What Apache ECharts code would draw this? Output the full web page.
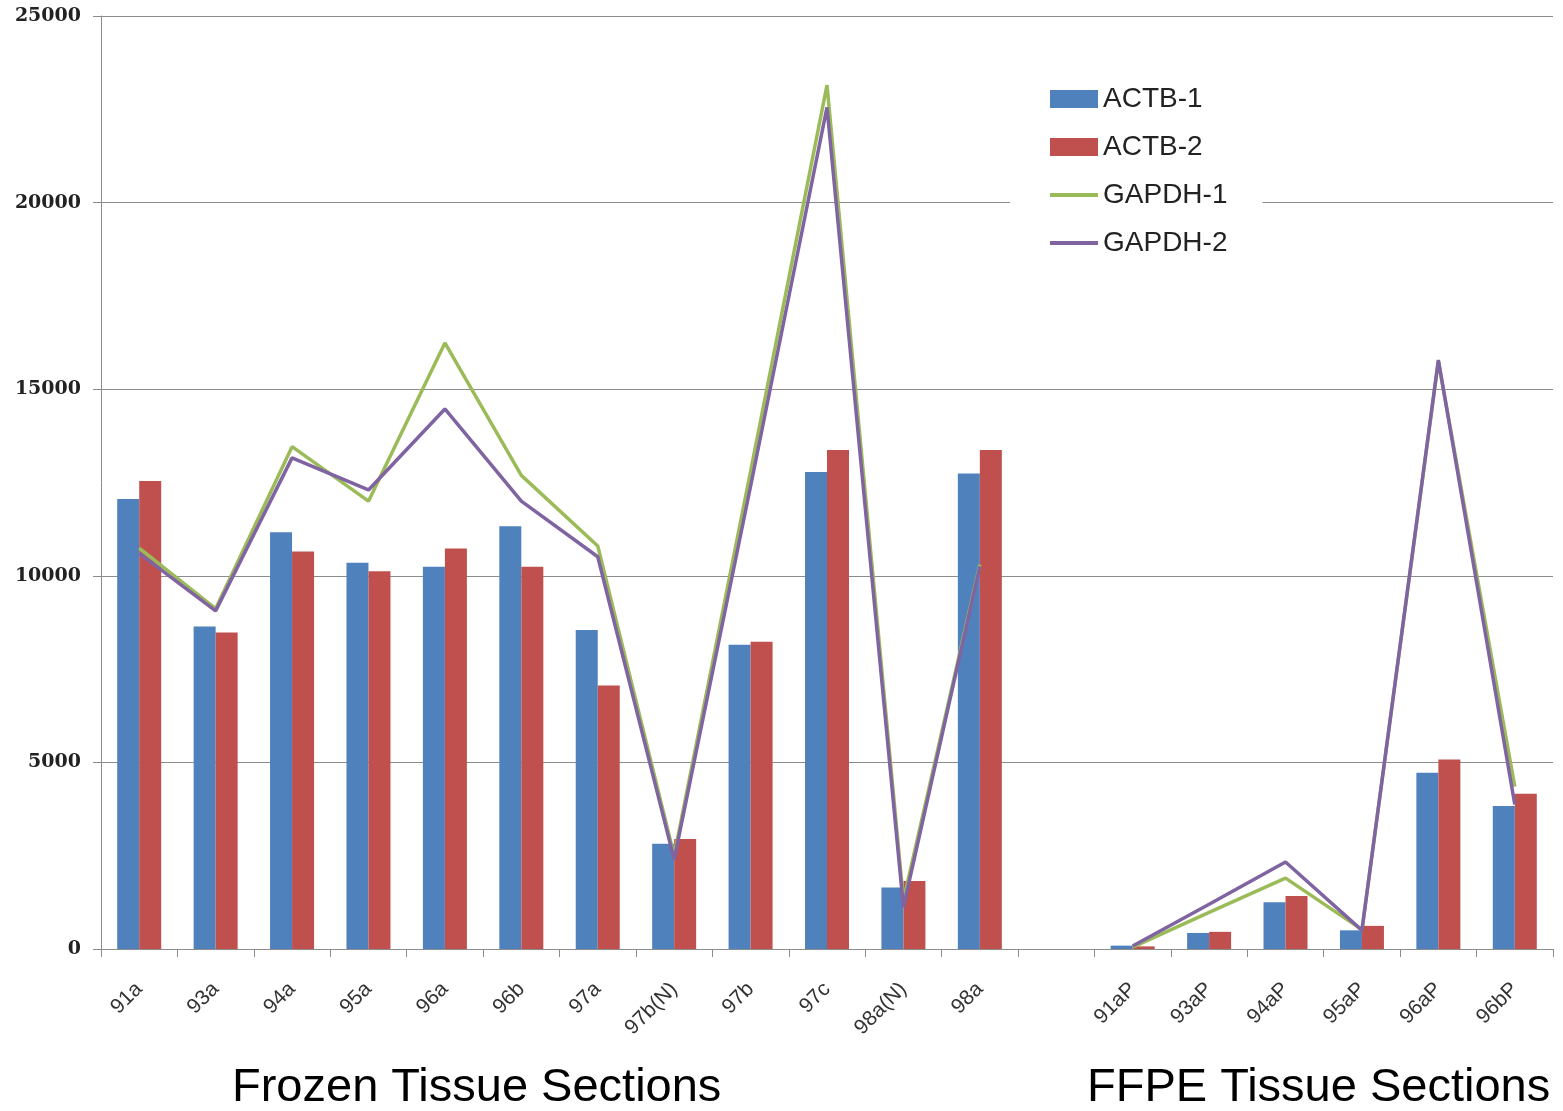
<!DOCTYPE html>
<html>
<head>
<meta charset="utf-8">
<style>
  html, body { margin: 0; padding: 0; background: #fff; }
  #chart { width: 1563px; height: 1111px; }
</style>
<script src="https://cdn.jsdelivr.net/npm/echarts@6/dist/echarts.min.js"></script>
</head>
<body>
<div id="chart"></div>
<script>
// Sample names; the empty entry separates frozen sections from FFPE sections
const categories = ['91a', '93a', '94a', '95a', '96a', '96b', '97a', '97b(N)', '97b', '97c', '98a(N)', '98a', '',
  '91aP', '93aP', '94aP', '95aP', '96aP', '96bP'];

const actb1  = [12060, 8640, 11170, 10350, 10240, 11330, 8550, 2820, 8150, 12780, 1650, 12740, null, 90, 430, 1250, 500, 4720, 3830];
const actb2  = [12540, 8480, 10650, 10120, 10730, 10240, 7060, 2950, 8230, 13370, 1820, 13370, null, 70, 460, 1420, 620, 5080, 4160];
const gapdh1 = [10740, 9120, 13460, 12000, 16240, 12690, 10800, 2500, 12800, 23150, 1300, 10300, null, 50, 980, 1900, 520, 15750, 4350];
const gapdh2 = [10600, 9060, 13160, 12300, 14470, 12000, 10510, 2400, 12400, 22550, 1120, 10250, null, 80, 1200, 2330, 500, 15780, 3870];

const yTicks = { min: 0, max: 25000, interval: 5000 };
const groupTitles = ['Frozen Tissue Sections', 'FFPE Tissue Sections'];

const colors = { actb1: '#4F81BD', actb2: '#C0504D', gapdh1: '#9BBB59', gapdh2: '#8064A2' };
const gridColor = '#8c8c8c';

// thin horizontal stroke used as the legend key of the line series
const lineKey = 'path://M0,0 H48 V4 H0 Z';

const chart = echarts.init(document.getElementById('chart'), null, { renderer: 'canvas' });

chart.setOption({
  animation: false,
  backgroundColor: '#ffffff',
  grid: { left: 101, right: 10, top: 16, bottom: 162, containLabel: false },
  legend: {
    orient: 'vertical',
    left: 1010,
    top: 64,
    padding: [20, 35, 20, 40],
    backgroundColor: '#ffffff',
    itemWidth: 48,
    itemHeight: 18,
    itemGap: 18,
    symbolKeepAspect: true,
    textStyle: { fontFamily: 'Liberation Sans', fontSize: 28, lineHeight: 30, color: '#222' },
    data: [
      { name: 'ACTB-1', icon: 'rect' },
      { name: 'ACTB-2', icon: 'rect' },
      { name: 'GAPDH-1', icon: lineKey },
      { name: 'GAPDH-2', icon: lineKey }
    ]
  },
  xAxis: {
    type: 'category',
    data: categories,
    boundaryGap: true,
    axisLine: { lineStyle: { color: gridColor, width: 1 } },
    axisTick: { show: true, length: 8, lineStyle: { color: gridColor } },
    axisLabel: {
      rotate: 45,
      margin: 37,
      interval: 0,
      fontFamily: 'Liberation Sans',
      fontSize: 21,
      color: '#333'
    }
  },
  yAxis: {
    type: 'value',
    min: yTicks.min,
    max: yTicks.max,
    interval: yTicks.interval,
    axisLine: { show: true, lineStyle: { color: gridColor, width: 1 } },
    axisTick: { show: true, length: 8, lineStyle: { color: gridColor } },
    splitLine: { show: true, lineStyle: { color: gridColor, width: 1 } },
    axisLabel: {
      margin: 20,
      formatter: (v) => String(v),
      fontFamily: 'DejaVu Serif',
      fontWeight: 'bold',
      fontSize: 19,
      color: '#222'
    }
  },
  series: [
    {
      name: 'ACTB-1', type: 'bar', data: actb1,
      barWidth: 22, barGap: '0%',
      itemStyle: { color: colors.actb1 }
    },
    {
      name: 'ACTB-2', type: 'bar', data: actb2,
      barWidth: 22, barGap: '0%',
      itemStyle: { color: colors.actb2 }
    },
    {
      name: 'GAPDH-1', type: 'line', data: gapdh1,
      symbol: 'none', showSymbol: false, connectNulls: false,
      lineStyle: { color: colors.gapdh1, width: 3.5 },
      itemStyle: { color: colors.gapdh1 }
    },
    {
      name: 'GAPDH-2', type: 'line', data: gapdh2,
      symbol: 'none', showSymbol: false, connectNulls: false,
      lineStyle: { color: colors.gapdh2, width: 3.5 },
      itemStyle: { color: colors.gapdh2 }
    }
  ],
  graphic: [
    {
      type: 'text', left: 232, top: 1065,
      style: { text: groupTitles[0], font: '47px "Liberation Sans"', fill: '#000' }
    },
    {
      type: 'text', left: 1087, top: 1065,
      style: { text: groupTitles[1], font: '47px "Liberation Sans"', fill: '#000' }
    }
  ]
});
</script>
</body>
</html>
